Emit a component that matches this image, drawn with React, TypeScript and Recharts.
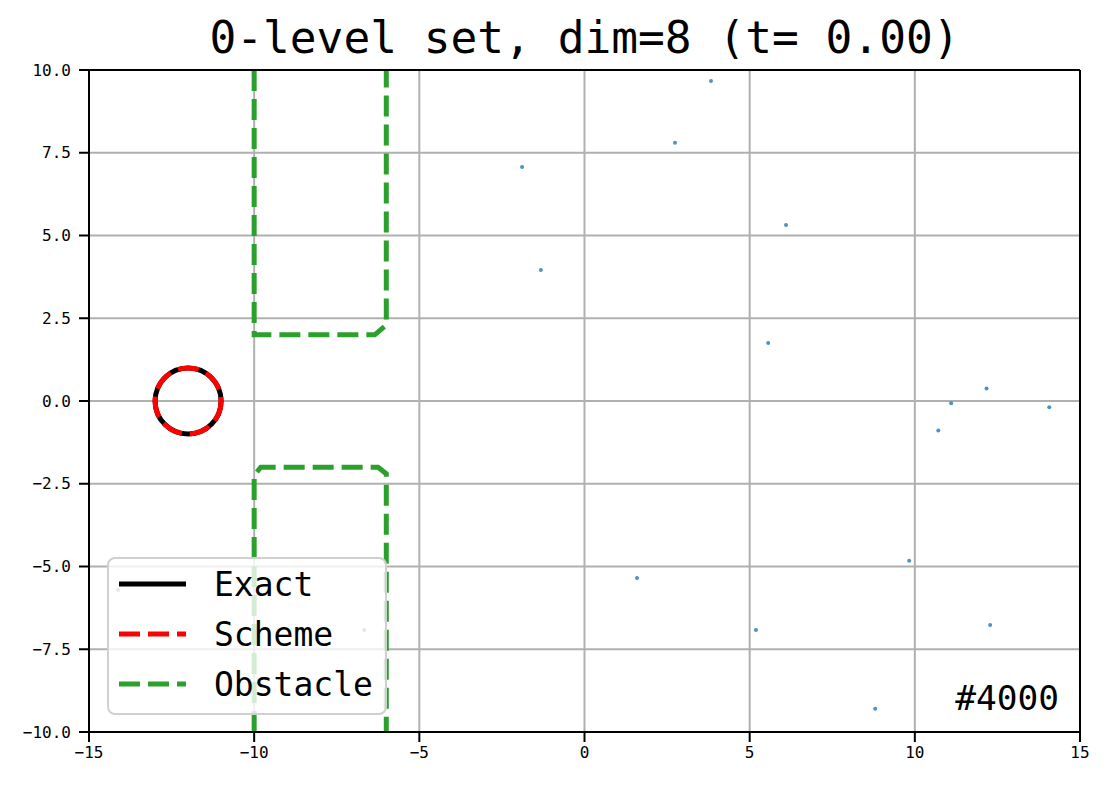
import {
  ComposedChart,
  CartesianGrid,
  XAxis,
  YAxis,
  Line,
  Scatter,
  ReferenceDot,
  ReferenceLine,
} from 'recharts';

const MONO = '"DejaVu Sans Mono", monospace';

// axis ticks
const xTicks = [-15, -10, -5, 0, 5, 10, 15];
const yTicks = [-10, -7.5, -5, -2.5, 0, 2.5, 5, 7.5, 10];

// scattered particles
const pointX = [3.83, 2.74, -1.89, 6.1, -1.32, 5.56, 12.17, 11.1, 14.07, 10.71, 9.83, 1.59, 5.19, 12.28, 8.8, -14.12, -6.67];
const pointY = [9.67, 7.8, 7.07, 5.32, 3.96, 1.75, 0.38, -0.07, -0.19, -0.89, -4.83, -5.35, -6.92, -6.77, -9.3, -5.71, -6.92];

// obstacle outlines
const upperObstacleX = [-10, -10, -6.35, -6, -6];
const upperObstacleY = [10, 2, 2, 2.3, 10];
const lowerObstacleX = [-10, -10, -9.8, -6.25, -6, -6];
const lowerObstacleY = [-10, -2.25, -2, -2, -2.2, -10];

// zero level set: circle centre
const circleCenter = { x: -12, y: 0 };

const legendItems = [
  { label: 'Exact', color: '#000000', dash: '' },
  { label: 'Scheme', color: '#ff0000', dash: '21 8' },
  { label: 'Obstacle', color: '#2ca02c', dash: '21 8' },
];

const points = pointX.map((x, i) => ({ x, y: pointY[i] }));
const upperObstacle = upperObstacleX.map((x, i) => ({ x, y: upperObstacleY[i] }));
const lowerObstacle = lowerObstacleX.map((x, i) => ({ x, y: lowerObstacleY[i] }));

const fmt = (v: number, digits: number) => v.toFixed(digits).replace('-', '\u2212');

export default function App() {
  return (
    <div style={{ position: 'absolute', left: 0, top: 0, width: 1111, height: 789, background: '#fff' }}>
      <div
        style={{
          position: 'absolute',
          left: 89,
          width: 991,
          top: 16,
          textAlign: 'center',
          fontFamily: MONO,
          fontSize: 44.5,
          lineHeight: 1,
          color: '#000',
          whiteSpace: 'pre',
        }}
      >
        0-level set, dim=8 (t= 0.00)
      </div>

      <ComposedChart width={1111} height={789} margin={{ top: 70, right: 31, bottom: 0, left: 0 }}>
        <CartesianGrid stroke="#b0b0b0" strokeWidth={2} />
        <XAxis
          dataKey="x"
          type="number"
          domain={[-15, 15]}
          ticks={xTicks}
          allowDataOverflow
          height={57}
          tickSize={10}
          tickMargin={5}
          tickFormatter={(v) => fmt(v, 0)}
          axisLine={{ stroke: '#000', strokeWidth: 2 }}
          tickLine={{ stroke: '#000', strokeWidth: 2 }}
          tick={{ fontSize: 16, fill: '#000', fontFamily: MONO }}
        />
        <YAxis
          dataKey="y"
          type="number"
          domain={[-10, 10]}
          ticks={yTicks}
          allowDataOverflow
          width={89}
          tickSize={10}
          tickMargin={8}
          tickFormatter={(v) => fmt(v, 1)}
          axisLine={{ stroke: '#000', strokeWidth: 2 }}
          tickLine={{ stroke: '#000', strokeWidth: 2 }}
          tick={{ fontSize: 16, fill: '#000', fontFamily: MONO }}
        />
        <Scatter
          data={points}
          isAnimationActive={false}
          shape={(p: any) => <circle cx={p.cx} cy={p.cy} r={2} fill="#1f77b4" fillOpacity={0.8} />}
        />
        <Line
          data={upperObstacle}
          dataKey="y"
          type="linear"
          stroke="#2ca02c"
          strokeWidth={5}
          strokeDasharray="21 8"
          dot={false}
          activeDot={false}
          isAnimationActive={false}
        />
        <Line
          data={lowerObstacle}
          dataKey="y"
          type="linear"
          stroke="#2ca02c"
          strokeWidth={5}
          strokeDasharray="21 8"
          dot={false}
          activeDot={false}
          isAnimationActive={false}
        />
        <ReferenceDot x={circleCenter.x} y={circleCenter.y} r={33} fill="none" stroke="#000" strokeWidth={5} />
        <ReferenceDot
          x={circleCenter.x}
          y={circleCenter.y}
          r={33}
          fill="none"
          stroke="#ff0000"
          strokeWidth={5}
          strokeDasharray="21 8"
        />
        <ReferenceLine y={10} stroke="#000" strokeWidth={2} />
        <ReferenceLine x={15} stroke="#000" strokeWidth={2} />
      </ComposedChart>

      <div
        style={{
          position: 'absolute',
          left: 107,
          top: 557,
          width: 280,
          height: 158,
          boxSizing: 'border-box',
          border: '2px solid #d0d0d0',
          borderRadius: 8,
          background: 'rgba(255,255,255,0.8)',
        }}
      >
        {legendItems.map((item, i) => (
          <div
            key={item.label}
            style={{ position: 'absolute', left: 0, top: 50 * i, height: 50, width: '100%', display: 'flex', alignItems: 'center' }}
          >
            <svg width={67} height={10} style={{ position: 'absolute', left: 10 }}>
              <line
                x1={0}
                y1={5}
                x2={67}
                y2={5}
                stroke={item.color}
                strokeWidth={5}
                strokeDasharray={item.dash || undefined}
              />
            </svg>
            <span style={{ position: 'absolute', left: 105, fontFamily: MONO, fontSize: 33, lineHeight: 1, color: '#000' }}>
              {item.label}
            </span>
          </div>
        ))}
      </div>

      <div
        style={{
          position: 'absolute',
          left: 0,
          width: 1059,
          top: 681,
          textAlign: 'right',
          fontFamily: MONO,
          fontSize: 34.5,
          lineHeight: 1,
          color: '#000',
        }}
      >
        #4000
      </div>
    </div>
  );
}
